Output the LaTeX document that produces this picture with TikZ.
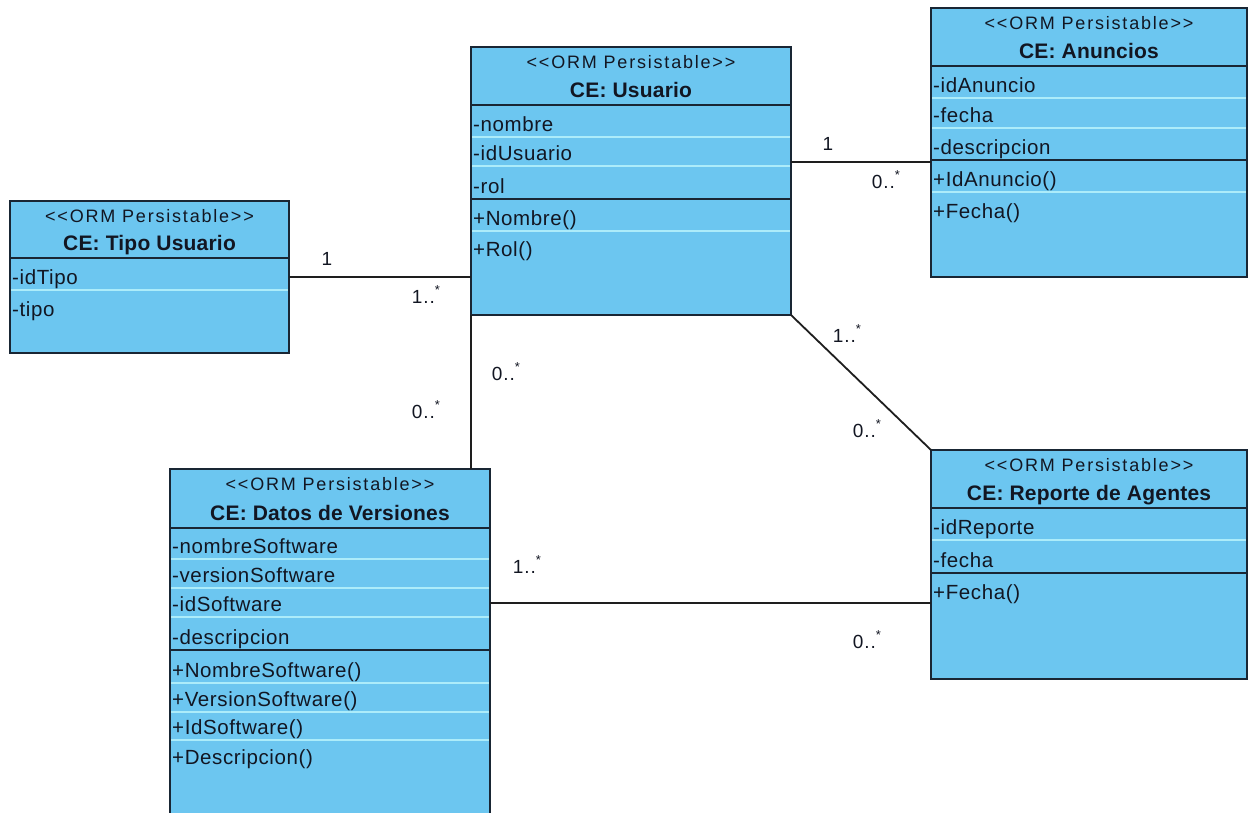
\documentclass[tikz,border=0pt]{standalone}
\usepackage{fontspec}
\setmainfont{Liberation Sans}
\newfontfamily\stereoface[LetterSpace=10]{Liberation Sans}
\newfontfamily\memberface[LetterSpace=3]{Liberation Sans}
\newfontfamily\titleface[LetterSpace=1]{Liberation Sans Bold}
\newfontfamily\multface[LetterSpace=5]{Liberation Sans}

\definecolor{boxfill}{RGB}{108,198,240}
\definecolor{rowline}{RGB}{172,236,250}
\definecolor{boxline}{RGB}{25,38,52}
\definecolor{txt}{RGB}{18,22,34}
\definecolor{linecol}{RGB}{30,30,30}

\newcommand\stereotxt{<{}<ORM Persistable>{}>}

% class frame with stereotype, name and the line under the header
% #1 name, #2 left, #3 top, #4 right, #5 bottom, #6 header bottom, #7 title
\newcommand\umlclass[7]{%
  \node[classbox, minimum width={#4-#2}, minimum height={#5-#3}] (#1) at (#2,#3) {};
  \node[stereo] (#1-st) at ({(#2+#4)/2},{#3+21}) {\stereotxt};
  \node[titletxt] (#1-ti) at ({(#2+#4)/2},{#6-8}) {#7};
  \draw[compsep] (#1.west |- 0,#6) -- (#1.east |- 0,#6);
}
% compartment line between attributes and operations: #1 class, #2 y
\newcommand\compline[2]{\draw[compsep] (#1.west |- 0,#2) -- (#1.east |- 0,#2);}
% light line between two rows: #1 class, #2 y
\newcommand\lightsep[2]{\draw[rowsepline] ([xshift=1pt]#1.west |- 0,#2) -- ([xshift=-1pt]#1.east |- 0,#2);}
% one attribute or operation: #1 node name, #2 class, #3 baseline y, #4 text
\newcommand\member[4]{\node[membertxt] (#1) at ([xshift=2pt]#2.west |- 0,#3) {#4};}
% multiplicity text with raised star
\newcommand\many[1]{#1..\raisebox{0.45em}{\fontsize{13}{13}\selectfont *}}

\begin{document}
\begin{tikzpicture}[x=1pt,y=-1pt,
  classbox/.style={draw=boxline, line width=1.6pt, fill=boxfill, inner sep=0pt, outer sep=0pt, anchor=north west},
  stereo/.style={font=\stereoface\fontsize{18}{20}\selectfont, text=txt, inner sep=0pt, anchor=base},
  titletxt/.style={font=\titleface\fontsize{21}{23}\selectfont, text=txt, inner sep=0pt, anchor=base},
  membertxt/.style={font=\memberface\fontsize{20.5}{22}\selectfont, text=txt, inner sep=0pt, anchor=base west},
  rowsepline/.style={draw=rowline, line width=1.8pt},
  compsep/.style={draw=boxline, line width=1.4pt},
  assoc/.style={draw=linecol, line width=1.8pt},
  mult/.style={font=\multface\fontsize{19}{21}\selectfont, text=txt, inner sep=0pt, anchor=base},
]
\useasboundingbox (0,0) rectangle (1249,812);
\fill[white] (0,0) rectangle (1249,812);
\begin{scope}
\clip (0,0) rectangle (1249,812);

% ---------- CE: Tipo Usuario ----------
\umlclass{tipo}{10}{201}{289}{353}{258}{CE: Tipo Usuario}
\lightsep{tipo}{290}
\member{tipo-a1}{tipo}{284}{-idTipo}
\member{tipo-a2}{tipo}{316}{-tipo}

% ---------- CE: Usuario ----------
\umlclass{usuario}{471}{47}{791}{315}{105}{CE: Usuario}
\lightsep{usuario}{137}
\lightsep{usuario}{166}
\compline{usuario}{199}
\lightsep{usuario}{231}
\member{usuario-a1}{usuario}{131}{-nombre}
\member{usuario-a2}{usuario}{160}{-idUsuario}
\member{usuario-a3}{usuario}{193}{-rol}
\member{usuario-m1}{usuario}{225}{+Nombre()}
\member{usuario-m2}{usuario}{256}{+Rol()}

% ---------- CE: Anuncios ----------
\umlclass{anuncios}{931}{8}{1247}{277}{66}{CE: Anuncios}
\lightsep{anuncios}{98}
\lightsep{anuncios}{128}
\compline{anuncios}{160}
\lightsep{anuncios}{192}
\member{anuncios-a1}{anuncios}{92}{-idAnuncio}
\member{anuncios-a2}{anuncios}{122}{-fecha}
\member{anuncios-a3}{anuncios}{154}{-descripcion}
\member{anuncios-m1}{anuncios}{186}{+IdAnuncio()}
\member{anuncios-m2}{anuncios}{218}{+Fecha()}

% ---------- CE: Datos de Versiones ----------
\umlclass{datos}{170}{469}{490}{830}{528}{CE: Datos de Versiones}
\lightsep{datos}{559}
\lightsep{datos}{588}
\lightsep{datos}{617}
\compline{datos}{650}
\lightsep{datos}{683}
\lightsep{datos}{712}
\lightsep{datos}{740}
\member{datos-a1}{datos}{553}{-nombreSoftware}
\member{datos-a2}{datos}{582}{-versionSoftware}
\member{datos-a3}{datos}{611}{-idSoftware}
\member{datos-a4}{datos}{644}{-descripcion}
\member{datos-m1}{datos}{677}{+NombreSoftware()}
\member{datos-m2}{datos}{706}{+VersionSoftware()}
\member{datos-m3}{datos}{734}{+IdSoftware()}
\member{datos-m4}{datos}{764}{+Descripcion()}

% ---------- CE: Reporte de Agentes ----------
\umlclass{reporte}{931}{450}{1247}{679}{508}{CE: Reporte de Agentes}
\lightsep{reporte}{540}
\compline{reporte}{573}
\member{reporte-a1}{reporte}{534}{-idReporte}
\member{reporte-a2}{reporte}{567}{-fecha}
\member{reporte-m1}{reporte}{599}{+Fecha()}

% ---------- associations ----------
\draw[assoc] (tipo.east) -- (tipo.east -| usuario.west);
\coordinate (ua) at ([yshift=19pt]usuario.east);
\draw[assoc] (ua) -- (ua -| anuncios.west);
\draw[assoc] (usuario.south west) -- (usuario.south west |- datos.north);
\draw[assoc] (usuario.south east) -- (reporte.north west);
\coordinate (dr) at ([yshift=-38.5pt]reporte.west);
\draw[assoc] (dr -| datos.east) -- (dr);

% ---------- multiplicities ----------
\node[mult] (m-tipo) at (327,265) {1};
\node[mult] (m-usu-tipo) at (426,303) {\many{1}};
\node[mult] (m-usu-anu) at (828,150) {1};
\node[mult] (m-anu) at (886,188) {\many{0}};
\node[mult] (m-usu-dat) at (506,380) {\many{0}};
\node[mult] (m-dat-usu) at (426,418) {\many{0}};
\node[mult] (m-usu-rep) at (847,342) {\many{1}};
\node[mult] (m-rep-usu) at (867,437) {\many{0}};
\node[mult] (m-dat-rep) at (527,573) {\many{1}};
\node[mult] (m-rep-dat) at (867,648) {\many{0}};
\end{scope}
\end{tikzpicture}
\end{document}
